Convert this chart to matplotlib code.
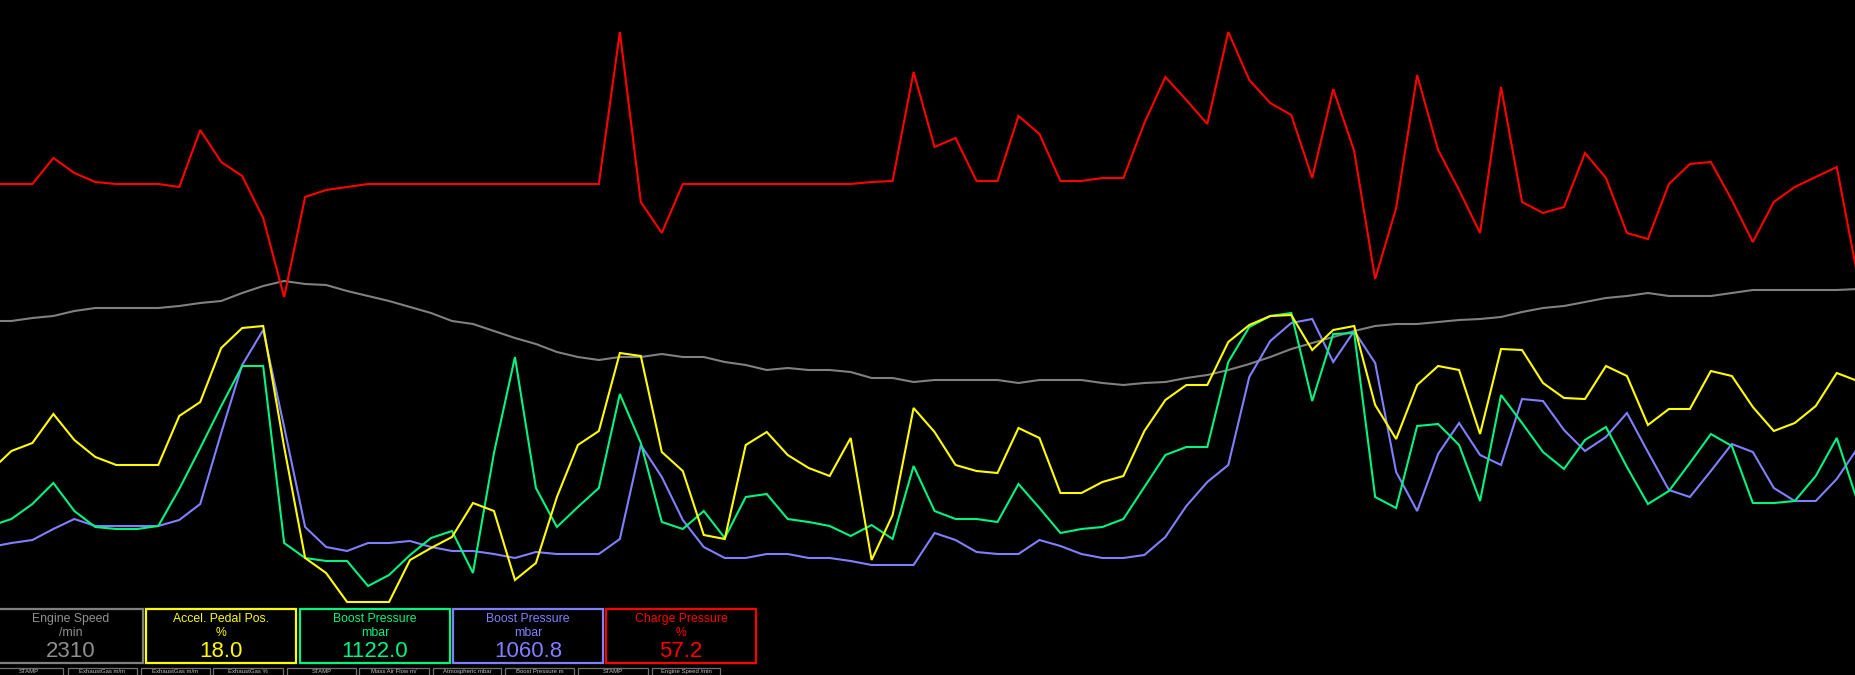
import numpy as np
import matplotlib
matplotlib.use("Agg")
import matplotlib.pyplot as plt
from matplotlib.patches import Rectangle

plt.rcParams['font.family'] = ['Liberation Sans', 'DejaVu Sans']

# sample index (time steps)
samples = np.arange(-1, 89)

# trace values, in display-scale units (0 = bottom of trace area, 610 = top)
charge_pressure = [426, 426, 426,                                        # -1..1
                   452, 437, 428, 426, 426, 426, 423, 480, 448, 434,     # 2..11
                   392, 313, 413, 420, 423,                              # 12..16
                   426, 426, 426, 426, 426, 426, 426, 426, 426, 426, 426, 426,  # 17..28
                   578, 408, 377,                                        # 29..31
                   426, 426, 426, 426, 426, 426, 426, 426, 426,          # 32..40
                   428, 429, 538, 463, 472, 429, 429, 494, 476, 429,     # 41..50
                   429, 432, 432, 487, 533, 510, 486, 578, 530, 507,     # 51..60
                   495, 432, 521, 459, 331, 402, 535, 460, 420, 377,     # 61..70
                   523, 408, 397, 403, 457, 432, 377, 371, 426, 446,     # 71..80
                   448, 410, 368, 408, 423, 433, 443, 333]               # 81..88
engine_speed = [289, 289, 292, 294, 299, 302, 302, 302, 302, 304, 307, 309, 317, 324, 329,
                326, 325, 319, 314, 309, 303, 297, 289, 286, 279, 272, 266, 258, 253, 250,
                253, 253, 256, 253, 253, 248, 245, 240, 242, 240, 240, 238, 232, 232, 228,
                230, 230, 230, 230, 227, 230, 230, 230, 227, 225, 227, 228, 232, 235, 240,
                246, 253, 261, 267, 273, 279, 284, 286, 286, 288, 290, 291, 293, 298, 302,
                304, 308, 312, 314, 317, 314, 314, 314, 317, 320, 320, 320, 320, 320, 321]
accel_pedal = [139, 159, 167, 196, 170, 153, 145, 145, 145, 194, 208, 262, 282, 284, 163,
               52, 37, 8, 8, 8, 50, 62, 73, 107, 99, 30, 47, 113, 165, 179,
               257, 254, 158, 139, 75, 71, 165, 178, 155, 142, 134, 172, 50, 95, 202,
               178, 145, 139, 137, 182, 172, 117, 117, 128, 134, 179, 210, 225, 225, 268,
               285, 294, 295, 260, 280, 284, 205, 171, 225, 244, 240, 176, 261, 260, 227,
               212, 211, 244, 234, 185, 201, 201, 239, 234, 203, 179, 187, 204, 237, 229]
boost_pressure_a = [84, 91, 106, 127, 99, 83, 81, 81, 84, 121, 162, 204, 244, 244, 67,
                    52, 49, 49, 24, 35, 55, 72, 79, 37, 157, 253, 122, 83, 103, 122,
                    216, 167, 88, 81, 99, 72, 113, 116, 91, 88, 84, 74, 85, 71, 144,
                    99, 91, 91, 88, 126, 102, 77, 81, 83, 91, 123, 155, 163, 163, 248,
                    283, 294, 297, 209, 276, 277, 113, 102, 184, 186, 165, 109, 215, 187, 158,
                    141, 170, 183, 143, 106, 119, 147, 176, 164, 107, 107, 109, 134, 172, 108]
boost_pressure_b = [63, 67, 70, 81, 91, 84, 84, 84, 84, 90, 106, 177, 245, 280, 183,
                    83, 63, 59, 67, 67, 69, 63, 59, 59, 56, 52, 58, 56, 56, 56,
                    71, 165, 133, 90, 63, 52, 52, 56, 56, 52, 52, 49, 45, 45, 45,
                    77, 70, 58, 56, 56, 70, 64, 56, 52, 52, 55, 73, 104, 128, 145,
                    233, 269, 287, 291, 248, 279, 247, 138, 99, 156, 187, 155, 145, 211, 209,
                    180, 159, 173, 197, 158, 120, 113, 139, 166, 158, 122, 109, 109, 131, 162]

# legend panel contents
panel_names = ["Engine Speed", "Accel. Pedal Pos.", "Boost Pressure", "Boost Pressure", "Charge Pressure"]
panel_units = ["/min", "%", "mbar", "mbar", "%"]
panel_values = ["2310", "18.0", "1122.0", "1060.8", "57.2"]
tab_labels = ["STAMP", "ExhaustGas m/m", "ExhaustGas m/m", "ExhaustGas %", "STAMP",
              "Mass Air Flow m/", "Atmospheric mbar", "Boost Pressure m", "STAMP", "Engine Speed /min"]

GRAY = "#808080"
YELLOW = "#FFFF00"
GREEN = "#00F580"
BLUE = "#8080FF"
RED = "#FF0000"
panel_colors = [GRAY, YELLOW, GREEN, BLUE, RED]

W, H = 1855, 675
fig = plt.figure(figsize=(W / 100, H / 100), dpi=100, facecolor="black")

# trace area: top 610 px of the figure
ax = fig.add_axes([0, (H - 610) / H, 1, 610 / H], facecolor="black")
ax.set_xlim(-0.543, 87.87)
ax.set_ylim(0, 610)
ax.axis("off")

series = [(engine_speed, GRAY), (charge_pressure, RED), (boost_pressure_b, BLUE),
          (boost_pressure_a, GREEN), (accel_pedal, YELLOW)]
for vals, col in series:
    ax.plot(samples, vals, color=col, lw=1.5, solid_joinstyle="miter")

# overlay in pixel units for the panels
ov = fig.add_axes([0, 0, 1, 1], facecolor="none")
ov.set_xlim(0, W)
ov.set_ylim(H, 0)
ov.axis("off")

box_left = [-7, 146, 300, 453, 606]
box_w = 150
for i in range(5):
    x0 = box_left[i]
    ov.add_patch(Rectangle((x0, 609), box_w, 54, fill=False, edgecolor=panel_colors[i], lw=1.6))
    cx = x0 + box_w / 2 + (0 if i else 3)
    tcol = "#909090" if i == 0 else panel_colors[i]
    ov.text(cx, 619, panel_names[i], color=tcol, fontsize=8.8, ha="center", va="center")
    ov.text(cx, 633, panel_units[i], color=tcol, fontsize=8.8, ha="center", va="center")
    ov.text(cx, 651.5, panel_values[i], color=tcol, fontsize=16, ha="center", va="center")

tab_left = [-5, 68, 141, 213, 287, 359, 433, 505, 578, 652]
tab_right = [63, 137, 210, 283, 356, 429, 501, 574, 648, 720]
for i, lab in enumerate(tab_labels):
    ov.add_patch(Rectangle((tab_left[i], 667.5), tab_right[i] - tab_left[i], 15,
                           fill=False, edgecolor="#707070", lw=0.9))
    ov.text((tab_left[i] + tab_right[i]) / 2, 671.8, lab, color="#C0C0C0", fontsize=4.3,
            ha="center", va="center")

fig.savefig("out.png", dpi=100, facecolor="black")
